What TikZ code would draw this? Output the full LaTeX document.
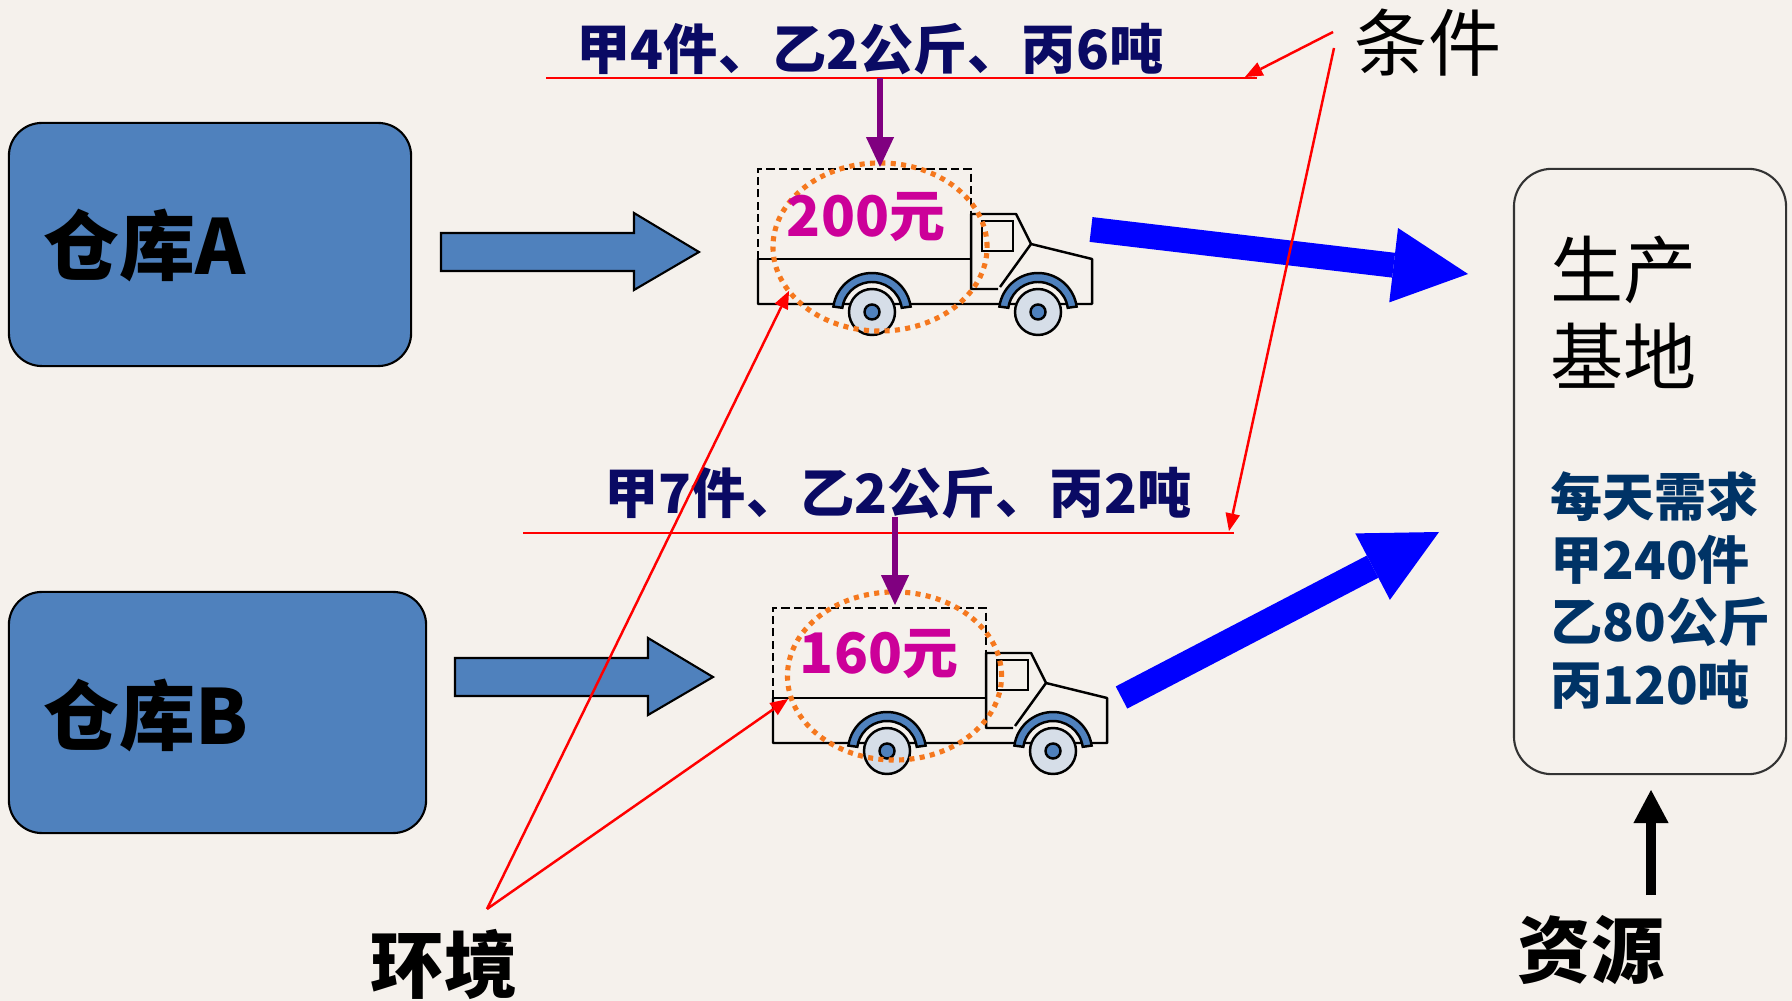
\documentclass[tikz,border=0pt]{standalone}
\usepackage{fontspec}
\newfontfamily\cjk{Noto Sans CJK SC}
\usetikzlibrary{arrows.meta,shapes.geometric}

\definecolor{paper}{RGB}{245,241,236}
\definecolor{depotblue}{RGB}{79,129,189}
\definecolor{wheelgrey}{RGB}{214,222,232}
\definecolor{navy}{RGB}{10,10,100}
\definecolor{pricepink}{RGB}{204,0,153}
\definecolor{demandblue}{RGB}{0,51,102}
\definecolor{flowblue}{RGB}{0,0,255}
\definecolor{dotorange}{RGB}{245,120,30}
\definecolor{loadpurple}{RGB}{128,0,128}
\definecolor{notered}{RGB}{255,0,0}

\tikzset{
  truckline/.style={draw=black, line width=0.7pt},
  lorry/.pic={
    % cargo box: dashed upper half, solid chassis
    \draw[truckline, dash pattern=on 2.3pt off 1.2pt] (0,90) -- (0,0) -- (213,0) -- (213,45);
    \draw[truckline] (0,90) -- (213,90);
    \draw[truckline, line join=round] (0,90) -- (0,135) -- (334,135) -- (334,90)
      -- (273,75) -- (258,45) -- (213,45) -- (213,120) -- (240,120);
    \draw[truckline] (273,75) -- (242,118);
    \draw[truckline] (224,52) rectangle (255,82);
    % wheels with mudguards
    \foreach \wx in {114,280} {
      \begin{scope}[shift={(\wx,143)}]
        \filldraw[truckline, fill=depotblue] (188:39) arc[start angle=188, end angle=352, radius=39]
          -- (352:30) arc[start angle=352, end angle=188, radius=30] -- cycle;
        \filldraw[truckline, fill=wheelgrey] (0,0) circle[radius=23];
        \filldraw[truckline, fill=depotblue] (0,0) circle[radius=7.5];
      \end{scope}
    }
  }
}

\begin{document}
\begin{tikzpicture}[x=0.01cm, y=-0.01cm,
  depot/.style={draw=black, line width=0.6pt, fill=depotblue, rounded corners=9.4pt, inner sep=0},
  depotlabel/.style={font={\cjk\bfseries\fontsize{21.6pt}{24pt}\selectfont}, anchor=west, inner sep=0},
  pushshape/.style={draw=black, line width=0.6pt, fill=depotblue, line join=miter},
  loadtext/.style={font={\cjk\bfseries\fontsize{15.4pt}{18pt}\selectfont}, text=navy, inner sep=0},
  barline/.style={draw=notered, line width=0.7pt},
  loadarrow/.style={draw=loadpurple, fill=loadpurple, line width=1.7pt, -{Triangle[length=8.5pt,width=8pt,line width=0pt]}},
  ring/.style={ellipse, draw=dotorange, line width=1.45pt, dash pattern=on 1.45pt off 1.5pt,
    minimum width=2.14cm, minimum height=1.68cm, inner sep=0},
  price/.style={font={\cjk\bfseries\fontsize{15.9pt}{18pt}\selectfont}, text=pricepink, inner sep=0},
  flow/.style={draw=flowblue, fill=flowblue, line width=7.1pt, -{Triangle[length=21.3pt,width=21.3pt,line width=0pt]}},
  pointer/.style={draw=notered, fill=notered, line width=0.7pt, -{Triangle[length=5pt,width=4.2pt,line width=0pt]}},
  tag/.style={font={\cjk\bfseries\fontsize{20.8pt}{24pt}\selectfont}, inner sep=0},
  basebox/.style={draw=black!80, line width=0.6pt, rounded corners=10.8pt, inner sep=0},
]
% page
\fill[paper] (0,0) rectangle (1792,1001);
\useasboundingbox (0,0) rectangle (1792,1001);

% warehouses
\node[depot, minimum width=4.02cm, minimum height=2.43cm] (depotA) at (210,244.5) {};
\node[depotlabel] (depotAname) at (43,245) {仓库A};
\node[depot, minimum width=4.17cm, minimum height=2.41cm] (depotB) at (217.5,712.5) {};
\node[depotlabel] (depotBname) at (43,715) {仓库B};

% dispatch arrows
\draw[pushshape] (441,233) -- (634,233) -- (634,213) -- (699,252) -- (634,290) -- (634,271) -- (441,271) -- cycle;
\draw[pushshape] (455,658) -- (648,658) -- (648,638) -- (713,677) -- (648,715) -- (648,696) -- (455,696) -- cycle;

% trucks
\pic (truckA) at (758,169) {lorry};
\pic (truckB) at (773,608) {lorry};

% cost rings
\node[ring] (ringA) at (880,247) {};
\node[ring] (ringB) at (894.5,676) {};
\node[price] (costA) at (866,217) {200元};
\node[price] (costB) at (879,654) {160元};

% loads
\node[loadtext] (loadA) at (870,49) {甲4件、乙2公斤、丙6吨};
\node[loadtext] (loadB) at (898,493) {甲7件、乙2公斤、丙2吨};
\coordinate (barAl) at (546,78);  \coordinate (barAr) at (1257,78);
\coordinate (barBl) at (523,533); \coordinate (barBr) at (1234,533);
\draw[barline] (barAl) -- (barAr);
\draw[barline] (barBl) -- (barBr);
\coordinate (dropAs) at (880,78);  \coordinate (dropAe) at (880,167);
\coordinate (dropBs) at (895,517); \coordinate (dropBe) at (895,605);
\draw[loadarrow] (dropAs) -- (dropAe);
\draw[loadarrow] (dropBs) -- (dropBe);

% production base
\node[basebox, minimum width=2.72cm, minimum height=6.05cm] (base) at (1650,471.5) {};
\node[font={\cjk\fontsize{20.8pt}{24.8pt}\selectfont}, anchor=west, align=left, inner sep=0]
  (basename) at (1550,312.5) {生产\\基地};
\node[font={\cjk\bfseries\fontsize{14.8pt}{17.9pt}\selectfont}, text=demandblue, anchor=west, align=left, inner sep=0]
  (demand) at (1550,590.5) {每天需求\\甲240件\\乙80公斤\\丙120吨};

% deliveries
\coordinate (flowAs) at (1091,229.5); \coordinate (flowAe) at (1468,274);
\coordinate (flowBs) at (1121.5,697.5); \coordinate (flowBe) at (1439,532);
\draw[flow] (flowAs) -- (flowAe);
\draw[flow] (flowBs) -- (flowBe);

% resources
\node[tag] (resource) at (1591,950) {资源};
\coordinate (resS) at (1651,895); \coordinate (resE) at (1651,790);
\draw[draw=black, fill=black, line width=2.6pt, -{Triangle[length=9.4pt,width=10pt,line width=0pt]}] (resS) -- (resE);

% conditions
\node[font={\cjk\fontsize{20.8pt}{24pt}\selectfont}, inner sep=0] (cond) at (1428,43) {条件};
\coordinate (condS1) at (1333,32); \coordinate (condE1) at (1245,77);
\coordinate (condS2) at (1334,48); \coordinate (condE2) at (1229,531);
\draw[pointer] (condS1) -- (condE1);
\draw[pointer] (condS2) -- (condE2);

% environment
\node[tag] (env) at (444,964) {环境};
\coordinate (envS) at (487,909);
\coordinate (envA) at (789,291); \coordinate (envB) at (788,699);
\draw[pointer] (envS) -- (envA);
\draw[pointer] (envS) -- (envB);
\end{tikzpicture}
\end{document}
